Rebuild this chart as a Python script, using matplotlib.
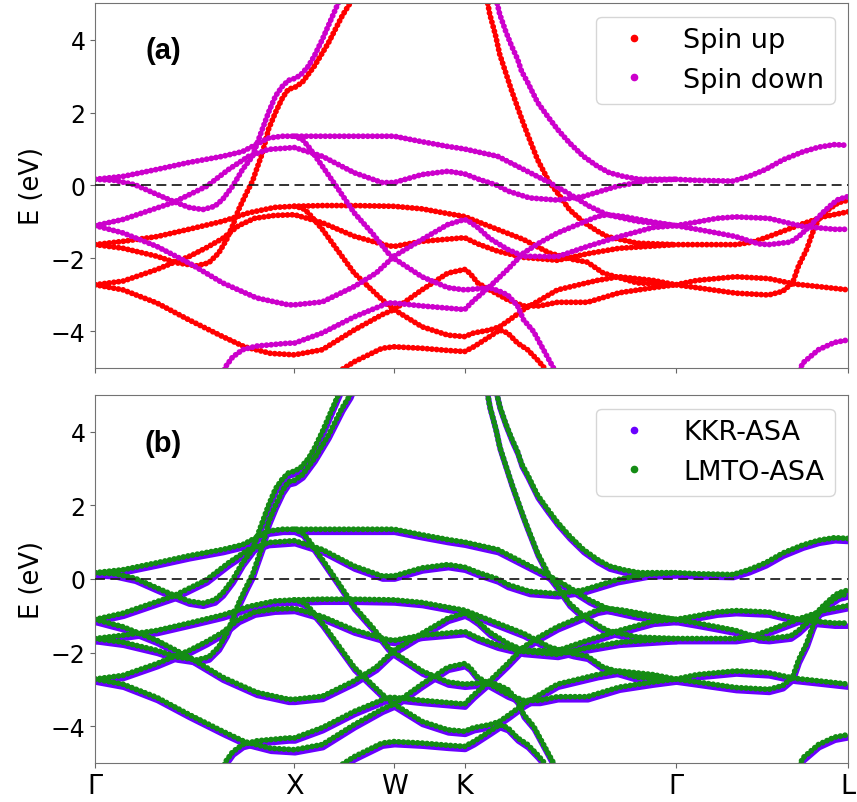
import matplotlib.pyplot as plt
import matplotlib.transforms as mtransforms
from matplotlib.lines import Line2D

# high-symmetry points along the fcc path
k_ticks = [0.0, 1.0, 1.5, 1.8536, 2.9142, 3.7802]
k_labels = ['Γ', 'X', 'W', 'K', 'Γ', 'L']

# spin down bands, (k, E)
dn_1 = [(0, .17), (.14, .25), (.31, .44), (.47, .63), (.64, .8), (.74, .93), (.81, 1.13), (.87, 1.3),
        (.94, 1.35), (1.0, 1.35), (1.14, 1.35), (1.3, 1.35), (1.5, 1.35), (1.64, 1.2), (1.77, 1.07),
        (1.854, 1.0), (1.92, .92), (2.02, .8), (2.15, .44), (2.28, .08), (2.37, -.2), (2.48, -.57),
        (2.57, -.8), (2.72, -.98), (2.914, -1.1), (3.02, -1.0), (3.12, -.9), (3.215, -.86),
        (3.38, -.9), (3.55, -1.12), (3.71, -1.2), (3.78, -1.2)]
dn_2 = [(1.0, 1.35), (1.04, 1.26), (1.07, 1.07), (1.14, .53), (1.22, -.1), (1.30, -.75), (1.39, -1.3),
        (1.47, -1.85), (1.5, -2.0), (1.64, -2.5), (1.77, -2.8), (1.854, -2.86), (1.92, -2.83),
        (1.98, -2.8), (2.03, -2.9), (2.07, -3.0), (2.12, -3.3), (2.15, -3.68), (2.2, -4.0),
        (2.25, -4.5), (2.30, -5.0), (2.34, -5.4)]
dn_3 = [(0, -1.1), (.14, -.93), (.39, -.47), (.56, -.02), (.67, .44), (.77, .8), (.87, .99), (1.0, 1.04),
        (1.14, .8), (1.3, .35), (1.44, .08), (1.5, .08), (1.64, .3), (1.77, .39), (1.854, .32),
        (1.92, .18), (2.02, 0.0), (2.07, -.15), (2.18, -.34), (2.32, -.4), (2.45, -.3), (2.62, -.02),
        (2.77, .13), (2.914, .17), (3.02, .14), (3.2, .12), (3.28, .25), (3.365, .44), (3.45, .7),
        (3.55, .92), (3.63, 1.05), (3.71, 1.12), (3.78, 1.1)]
dn_4 = [(0, .17), (.1, .14), (.2, .02), (.3, -.22), (.39, -.43), (.47, -.6), (.54, -.66), (.6, -.57),
        (.64, -.38), (.69, -.02), (.74, .44), (.79, .8), (.82, 1.26), (.87, 2.0), (.905, 2.45),
        (.94, 2.72), (.97, 2.88), (1.0, 2.93), (1.03, 3.02), (1.07, 3.27), (1.1, 3.55), (1.14, 4.0),
        (1.18, 4.5), (1.22, 5.0), (1.26, 5.5)]
dn_5 = [(0, -1.1), (.14, -1.3), (.31, -1.67), (.47, -2.12), (.64, -2.67), (.81, -3.08), (.97, -3.27),
        (1.0, -3.27), (1.14, -3.19), (1.3, -2.77), (1.41, -2.4), (1.5, -1.94), (1.64, -1.48),
        (1.77, -1.07), (1.854, -.93), (1.88, -1.0), (1.92, -1.15), (1.98, -1.45), (2.07, -1.75),
        (2.15, -1.94), (2.32, -1.95), (2.40, -1.8), (2.47, -1.67), (2.63, -1.4), (2.8, -1.15),
        (2.914, -1.1), (3.02, -1.2), (3.12, -1.3), (3.215, -1.4), (3.33, -1.6), (3.38, -1.62),
        (3.49, -1.55), (3.53, -1.4), (3.58, -1.15), (3.65, -.75), (3.7, -.5), (3.73, -.38), (3.78, -.3)]
dn_6 = [(.64, -5.3), (.65, -5.0), (.69, -4.7), (.74, -4.5), (.81, -4.4), (.97, -4.32), (1.0, -4.32),
        (1.14, -4.04), (1.3, -3.6), (1.47, -3.22), (1.5, -3.22), (1.64, -3.3), (1.77, -3.36),
        (1.854, -3.4), (1.9, -3.15), (1.98, -2.77), (2.07, -2.3), (2.15, -1.85), (2.23, -1.57),
        (2.32, -1.3), (2.40, -1.12), (2.52, -.85), (2.57, -.8), (2.65, -.85), (2.8, -1.0), (2.914, -1.1)]
dn_7 = [(2.0, 5.4), (2.03, 4.7), (2.06, 4.23), (2.09, 3.82), (2.12, 3.46), (2.14, 3.13), (2.17, 2.83),
        (2.22, 2.28), (2.27, 1.9), (2.32, 1.54), (2.38, 1.17), (2.45, .8), (2.52, .53), (2.58, .35),
        (2.65, .25), (2.73, .17), (2.914, .17)]
dn_8 = [(3.52, -5.3), (3.55, -4.87), (3.63, -4.5), (3.71, -4.3), (3.78, -4.23)]

# spin up bands
up_1 = [(0, -1.62), (.14, -1.53), (.31, -1.4), (.47, -1.2), (.64, -.98), (.77, -.75), (.9, -.6),
        (1.0, -.57), (1.14, -.55), (1.3, -.55), (1.5, -.57), (1.64, -.64), (1.77, -.77), (1.854, -.85),
        (1.98, -1.12), (2.15, -1.48), (2.28, -1.85), (2.4, -2.03), (2.47, -2.1), (2.55, -2.4),
        (2.72, -2.67), (2.914, -2.72), (3.02, -2.6), (3.215, -2.5), (3.38, -2.55), (3.51, -2.7),
        (3.63, -2.77), (3.78, -2.86)]
up_2 = [(1.0, -.57), (1.04, -.62), (1.07, -.75), (1.14, -1.2), (1.3, -2.4), (1.44, -3.13), (1.5, -3.4),
        (1.64, -3.87), (1.77, -4.1), (1.854, -4.14), (1.9, -4.04), (1.98, -3.96), (2.03, -3.87),
        (2.08, -3.68), (2.15, -3.4), (2.32, -2.86), (2.52, -2.6), (2.63, -2.5), (2.8, -2.6),
        (2.914, -2.72), (3.02, -2.8), (3.215, -2.95), (3.38, -3.0), (3.45, -2.9), (3.5, -2.67),
        (3.53, -2.2), (3.57, -1.76), (3.6, -1.3), (3.63, -.93), (3.68, -.66), (3.73, -.47), (3.78, -.4)]
up_3 = [(0, -2.72), (.14, -2.62), (.31, -2.3), (.39, -2.12), (.47, -1.95), (.56, -1.7), (.64, -1.45),
        (.72, -1.1), (.8, -.9), (.9, -.82), (1.0, -.8), (1.14, -1.02), (1.3, -1.39), (1.47, -1.65),
        (1.5, -1.67), (1.64, -1.53), (1.77, -1.47), (1.854, -1.43), (1.92, -1.6), (2.02, -1.8),
        (2.15, -1.97), (2.32, -2.05), (2.47, -1.87), (2.63, -1.72), (2.914, -1.62), (3.215, -1.62),
        (3.3, -1.55), (3.38, -1.4), (3.55, -1.05), (3.66, -.85), (3.78, -.72)]
up_4 = [(0, -1.62), (.14, -1.72), (.31, -1.94), (.41, -2.12), (.51, -2.2), (.57, -2.12), (.62, -1.85),
        (.66, -1.48), (.69, -1.1), (.72, -.66), (.76, -.2), (.79, .12), (.81, .44), (.84, .9),
        (.87, 1.54), (.905, 2.0), (.94, 2.4), (.97, 2.64), (1.0, 2.68), (1.04, 2.83), (1.1, 3.27),
        (1.17, 3.9), (1.24, 4.65), (1.28, 5.0), (1.31, 5.4)]
up_5 = [(0, -2.72), (.14, -2.86), (.31, -3.22), (.47, -3.68), (.64, -4.14), (.75, -4.42), (.88, -4.6),
        (1.0, -4.64), (1.14, -4.5), (1.3, -3.96), (1.44, -3.54), (1.5, -3.4), (1.64, -2.86),
        (1.77, -2.4), (1.854, -2.3), (1.88, -2.4), (1.92, -2.67), (1.98, -2.86), (2.07, -3.13),
        (2.15, -3.3), (2.23, -3.3), (2.32, -3.2), (2.47, -3.2), (2.63, -2.94), (2.8, -2.8), (2.914, -2.72)]
up_6 = [(1.18, -5.4), (1.21, -5.14), (1.3, -4.83), (1.44, -4.46), (1.5, -4.42), (1.64, -4.46),
        (1.77, -4.52), (1.854, -4.55), (1.9, -4.42), (1.98, -4.14), (2.03, -3.96), (2.07, -4.04),
        (2.12, -4.32), (2.17, -4.5), (2.22, -4.78), (2.25, -4.97), (2.28, -5.3)]
up_7 = [(1.96, 5.4), (1.97, 5.0), (1.98, 4.7), (2.01, 4.1), (2.03, 3.6), (2.06, 3.1), (2.09, 2.6),
        (2.12, 2.14), (2.145, 1.76), (2.17, 1.4), (2.22, .71), (2.28, .08), (2.32, -.2), (2.38, -.66),
        (2.45, -1.0), (2.52, -1.25), (2.57, -1.4), (2.72, -1.58), (2.914, -1.62)]

spin_up = [up_1, up_2, up_3, up_4, up_5, up_6, up_7]
spin_down = [dn_1, dn_2, dn_3, dn_4, dn_5, dn_6, dn_7, dn_8]

red = '#ff0000'
magenta = '#cc00cc'
purple = '#6a00ff'
green = '#148c14'

# dotted look: round caps on very short dashes
dots = dict(linestyle=(0, (0.01, 0.8)), dash_capstyle='round', linewidth=4.2)


def draw_bands(ax, bands, color, **kw):
    for band in bands:
        k, e = zip(*band)
        ax.plot(k, e, color=color, **kw)


fig = plt.figure(figsize=(8.57, 8.03), dpi=100)
ax1 = fig.add_axes([0.111, 0.5405, 0.879, 0.4545])
ax2 = fig.add_axes([0.111, 0.0486, 0.879, 0.4583], sharex=ax1)

draw_bands(ax1, spin_up, red, **dots)
draw_bands(ax1, spin_down, magenta, **dots)

# KKR drawn as a solid band just under the LMTO dots
shift = mtransforms.ScaledTranslation(0.5 / 72, -2.2 / 72, fig.dpi_scale_trans)
draw_bands(ax2, spin_up + spin_down, purple, linewidth=4.0, solid_capstyle='round',
           transform=ax2.transData + shift)
draw_bands(ax2, spin_up + spin_down, green, **dots)

for ax, tag in ((ax1, '(a)'), (ax2, '(b)')):
    ax.axhline(0, color='#222222', linewidth=1.3, dashes=(5.5, 3), zorder=5)
    ax.set_xlim(k_ticks[0], k_ticks[-1])
    ax.set_ylim(-5, 5)
    ax.set_yticks([-4, -2, 0, 2, 4])
    ax.tick_params(axis='y', labelsize=17, color='0.4')
    ax.tick_params(axis='x', labelsize=19.5, color='0.4')
    ax.set_ylabel('E (eV)', fontsize=18.5)
    for sp in ax.spines.values():
        sp.set_color('0.45')
    ax.text(0.09, 0.87, tag, transform=ax.transAxes, fontsize=21, fontweight='bold',
            family='Liberation Sans', ha='center', va='center')

ax1.set_xticks(k_ticks)
ax2.set_xticklabels(k_labels)
ax1.tick_params(labelbottom=False)

h1 = [Line2D([], [], ls='none', marker='o', ms=4.5, color=red, label='Spin up'),
      Line2D([], [], ls='none', marker='o', ms=4.5, color=magenta, label='Spin down')]
ax1.legend(handles=h1, loc='upper right', fontsize=19.5)
h2 = [Line2D([], [], ls='none', marker='o', ms=4.5, color=purple, label='KKR-ASA'),
      Line2D([], [], ls='none', marker='o', ms=4.5, color=green, label='LMTO-ASA')]
ax2.legend(handles=h2, loc='upper right', fontsize=19.5)

fig.savefig('out.png', dpi=100)
